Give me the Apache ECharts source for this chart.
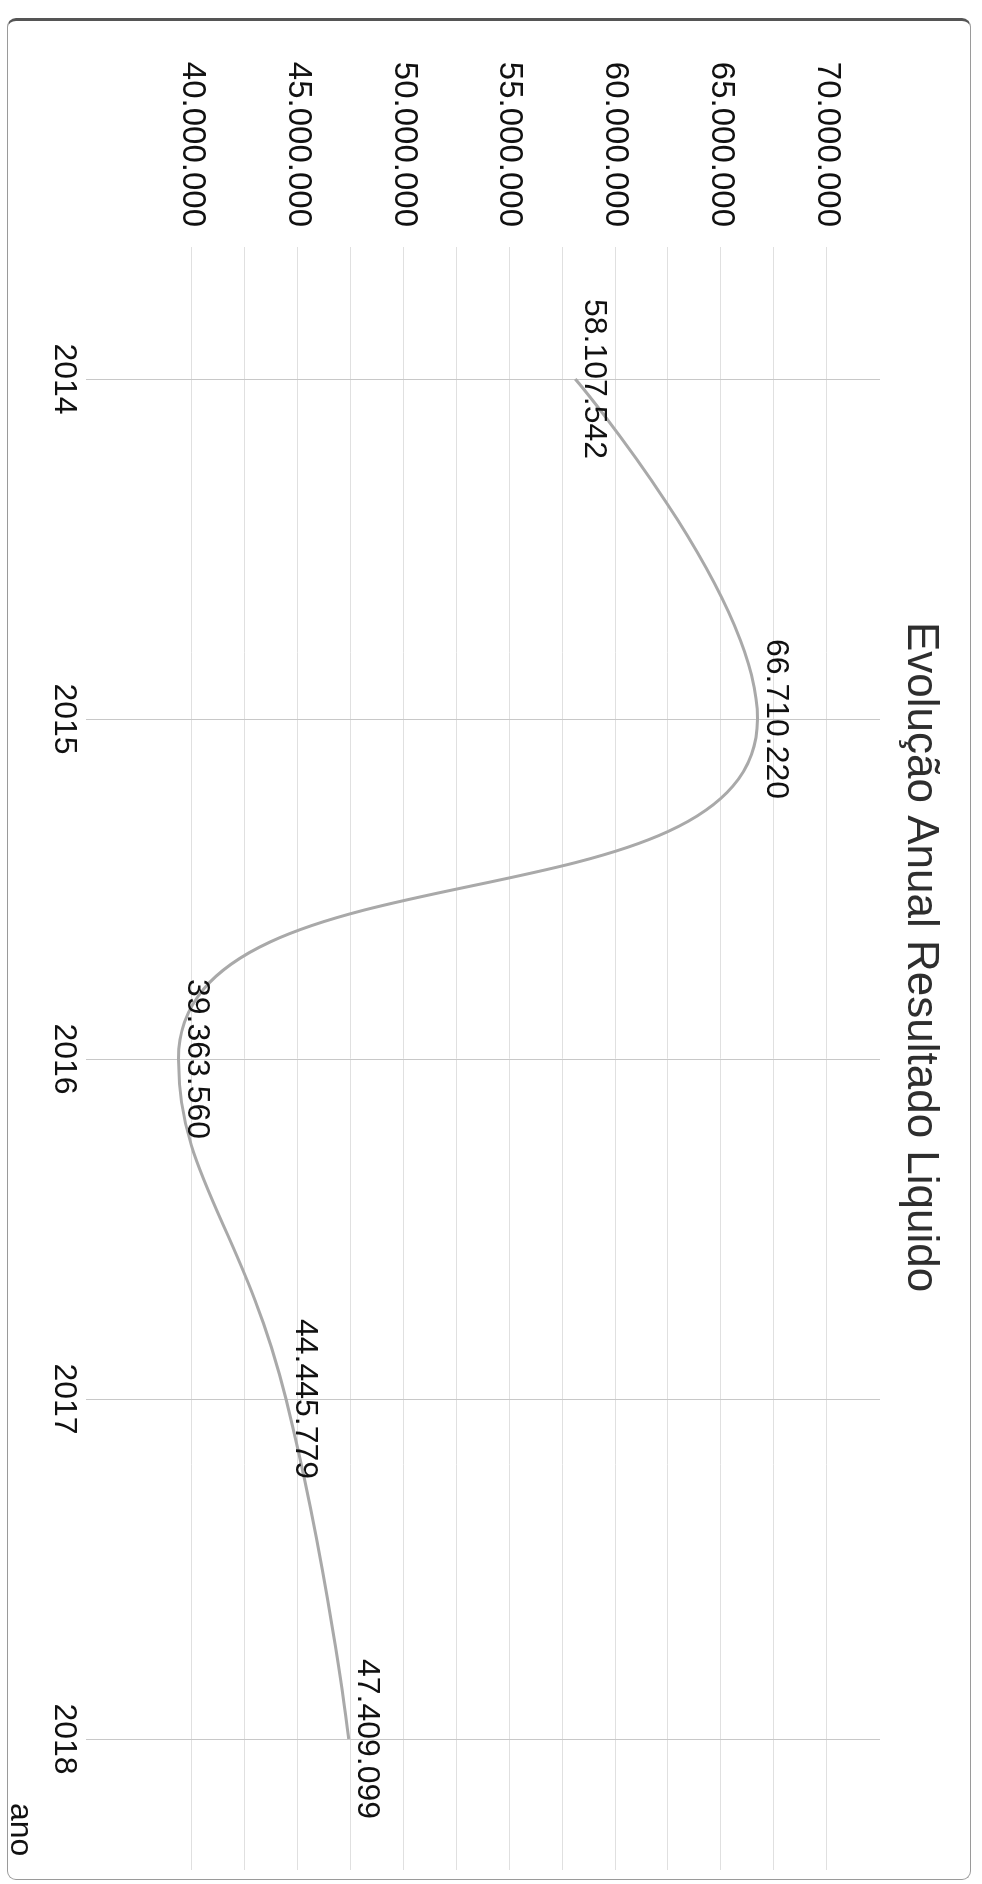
<!DOCTYPE html>
<html>
<head>
<meta charset="utf-8">
<title>Evolução Anual Resultado Liquido</title>
<script src="https://cdn.jsdelivr.net/npm/echarts@6/dist/echarts.min.js"></script>
<style>
	html, body { margin: 0; padding: 0; background: #fff; width: 982px; height: 1884px; overflow: hidden; }
	/* o grafico foi fotografado de lado: desenha-se deitado e gira-se 90 graus */
	#turn { position: absolute; left: 0; top: 0; width: 1884px; height: 982px; transform-origin: 0 0; transform: translateX(982px) rotate(90deg); }
	#card { position: absolute; left: 18px; top: 11px; width: 1862px; height: 964px; box-sizing: border-box; border: 1px solid #9a9a9a; border-left: 3px solid #555; border-radius: 9px; }
	#resultado { position: absolute; left: 0; top: 0; width: 1884px; height: 982px; }
</style>
</head>
<body>
<div id="turn">
	<div id="card"></div>
	<div id="resultado"></div>
</div>
<script>
	var anos = ['2014', '2015', '2016', '2017', '2018'];
	var resultado = [58107542, 66710220, 39363560, 44445779, 47409099];
	var marcas = [40000000, 45000000, 50000000, 55000000, 60000000, 65000000, 70000000];
	var titulo = 'Evolução Anual Resultado Liquido';
	var fonte = '"Liberation Sans", Arial, sans-serif';

	//separador de milhar com ponto
	function milhar(v) {
		return String(Math.round(v)).replace(/\B(?=(\d{3})+(?!\d))/g, '.');
	}

	var grafico = echarts.init(document.getElementById('resultado'));
	var opcoes = {
		animation: false,
		textStyle: {
			fontFamily: fonte
		},
		title: {
			text: titulo,
			left: 622,
			top: 40,
			padding: 0,
			textStyle: {
				fontFamily: fonte,
				fontSize: 44,
				fontWeight: 'normal',
				color: '#2e2e2e'
			}
		},
		grid: [{
				//area da serie
				left: 379,
				right: 145,
				top: 102,
				bottom: 86
			},
			{
				//area das linhas de valor
				left: 247,
				right: 14,
				top: 155,
				bottom: 192
			}
		],
		xAxis: [{
				type: 'category',
				gridIndex: 0,
				data: anos,
				boundaryGap: false,
				axisLine: { show: false },
				axisTick: { show: false },
				axisLabel: {
					fontFamily: fonte,
					fontSize: 32,
					color: '#111',
					margin: 6
				},
				splitLine: {
					show: true,
					lineStyle: { color: '#c8c8c8' }
				},
				name: 'ano',
				nameLocation: 'end',
				nameGap: 64,
				nameTextStyle: {
					fontFamily: fonte,
					fontSize: 32,
					color: '#111',
					align: 'left',
					verticalAlign: 'top',
					padding: [50, 0, 0, 0]
				}
			},
			{
				type: 'value',
				gridIndex: 1,
				show: false
			}
		],
		yAxis: [{
				type: 'value',
				gridIndex: 0,
				min: 35000000,
				max: 72500000,
				interval: 2500000,
				show: false
			},
			{
				type: 'value',
				gridIndex: 1,
				min: 40000000,
				max: 70000000,
				interval: 2500000,
				axisLine: { show: false },
				axisTick: { show: false },
				axisLabel: {
					fontFamily: fonte,
					fontSize: 33,
					color: '#111',
					margin: 20,
					formatter: function(v) {
						return marcas.indexOf(v) >= 0 ? milhar(v) : '';
					}
				},
				splitLine: {
					show: true,
					lineStyle: { color: '#e0e0e0' }
				}
			}
		],
		series: [{
			name: 'Resultado Liquido',
			type: 'line',
			xAxisIndex: 0,
			yAxisIndex: 0,
			data: resultado,
			smooth: 0.5,
			clip: false,
			symbol: 'circle',
			symbolSize: 1,
			itemStyle: { color: 'rgba(0,0,0,0)' },
			lineStyle: {
				color: '#a9a9a9',
				width: 3
			},
			label: {
				show: true,
				position: 'top',
				distance: 2,
				fontFamily: fonte,
				fontSize: 32,
				color: '#111',
				formatter: function(p) {
					return milhar(p.value);
				}
			}
		}]
	};
	grafico.setOption(opcoes);
</script>
</body>
</html>
